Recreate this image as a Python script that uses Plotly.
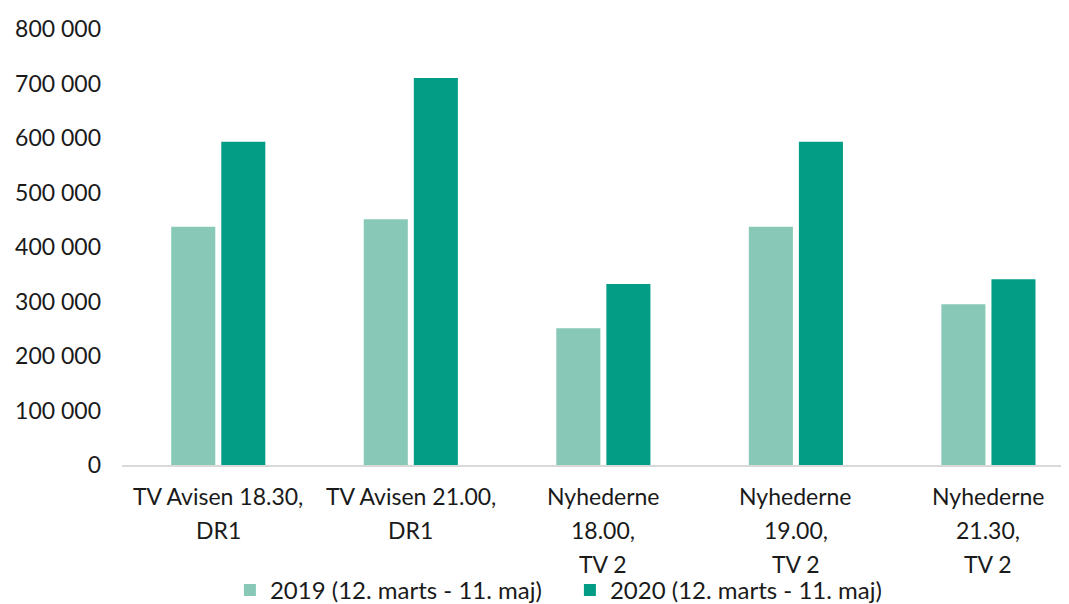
import plotly.graph_objects as go

# Data
categories = ["TV Avisen 18.30, DR1", "TV Avisen 21.00, DR1", "Nyhederne 18.00, TV 2",
              "Nyhederne 19.00, TV 2", "Nyhederne 21.30, TV 2"]
tick_lines = [["TV Avisen 18.30,", "DR1"],
              ["TV Avisen 21.00,", "DR1"],
              ["Nyhederne", "18.00,", "TV 2"],
              ["Nyhederne", "19.00,", "TV 2"],
              ["Nyhederne", "21.30,", "TV 2"]]
series_names = ["2019 (12. marts - 11. maj)", "2020 (12. marts - 11. maj)"]
values_2019 = [437000, 451000, 251000, 437000, 295000]
values_2020 = [593000, 710000, 332000, 593000, 341000]
y_ticks = [0, 100000, 200000, 300000, 400000, 500000, 600000, 700000, 800000]

FONT = "Lato, 'Open Sans', sans-serif"
TEXT = "#1a1a1a"
colors = ["#87C9B6", "#039D86"]

fig = go.Figure()
for name, vals, col in zip(series_names, [values_2019, values_2020], colors):
    fig.add_trace(go.Bar(name=name, x=categories, y=vals, marker_color=col,
                         marker_line_width=0))

# multi-line category labels with wider line spacing
for cat, lines in zip(categories, tick_lines):
    for i, line in enumerate(lines):
        fig.add_annotation(x=cat, y=0, xref="x", yref="y", text=line,
                           showarrow=False, yanchor="top", xanchor="center",
                           yshift=-15 - i * 34,
                           font=dict(family=FONT, size=23, color=TEXT))

# page body has an 8px margin, so margins are offset to compensate
fig.update_layout(
    width=1069, height=604,
    template="plotly_white",
    plot_bgcolor="white", paper_bgcolor="white",
    barmode="group", bargap=0.48, bargroupgap=0.12,
    separators=", ",
    font=dict(family=FONT, size=23, color=TEXT),
    margin=dict(l=114, r=0, t=21, b=147, autoexpand=False),
    xaxis=dict(showticklabels=False, showgrid=False, zeroline=False,
               showline=True, linecolor="#d9d9d9", linewidth=2,
               range=[-0.5, 4.46]),
    yaxis=dict(range=[0, 800000], tickvals=y_ticks, tickformat=",d",
               showgrid=False, zeroline=False, showline=False,
               ticklabelstandoff=20, tickfont=dict(size=23, color=TEXT)),
    legend=dict(orientation="h", x=0.469, xanchor="center", y=-0.236, yanchor="top",
                font=dict(size=24, color=TEXT), itemwidth=30, traceorder="normal",
                entrywidth=295, entrywidthmode="pixels"),
)

fig.write_html("out.html")
